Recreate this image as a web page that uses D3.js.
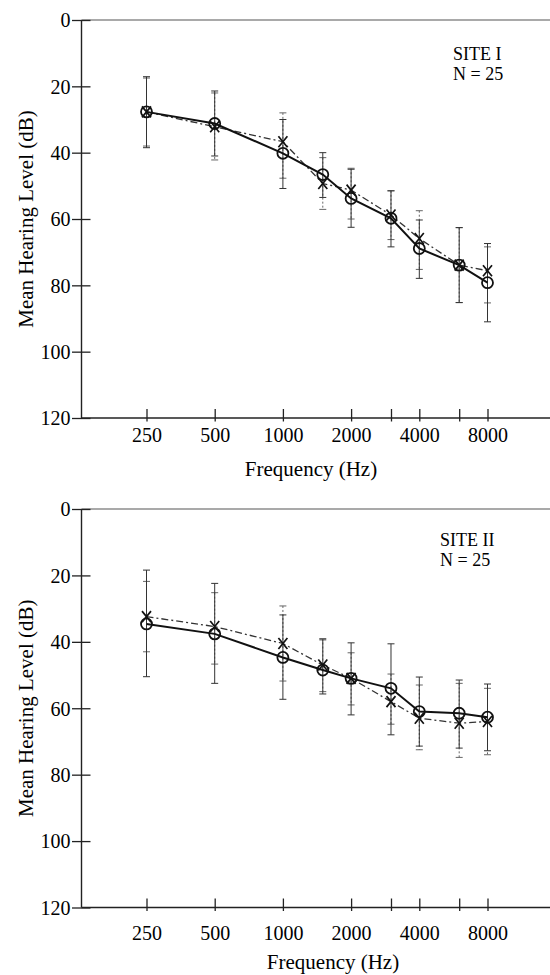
<!DOCTYPE html>
<html lang="en">
<head>
<meta charset="UTF-8">
<title>Mean Hearing Level by Frequency</title>
<style>
  body { margin: 0; padding: 0; background: #fff; }
  svg { display: block; font-family: "Liberation Serif", "Times New Roman", serif; }
  .axis-line { stroke: #222; stroke-width: 1.4; fill: none; }
  .frame-top { stroke: #555; stroke-width: 1.1; fill: none; }
  .tick line { stroke: #222; stroke-width: 1.3; }
  .tick text { font-size: 20px; fill: #000; font-family: "Liberation Serif", "Times New Roman", serif; }
  .title { font-size: 21px; fill: #000; font-family: "Liberation Serif", "Times New Roman", serif; }
  .site { font-size: 18px; fill: #000; font-family: "Liberation Serif", "Times New Roman", serif; }
  .line-o { fill: none; stroke: #111; stroke-width: 2; }
  .line-x { fill: none; stroke: #333; stroke-width: 1.3; stroke-dasharray: 7,3,2,3; }
  .err-o { stroke: #333; stroke-width: 1; }
  .err-x { stroke: #666; stroke-width: 1; stroke-dasharray: 2,2; }
  .mark-o { fill: none; stroke: #111; stroke-width: 1.8; }
  .mark-x { fill: none; stroke: #111; stroke-width: 1.7; }
</style>
</head>
<body>
<div id="chart"></div>
<script src="https://d3js.org/d3.v7.min.js"></script>
<script>
// frequencies tested (Hz)
const freqs = [250, 500, 1000, 1500, 2000, 3000, 4000, 6000, 8000];
const tickFreqs = [250, 500, 1000, 2000, 3000, 4000, 6000, 8000];
const tickLabels = ["250", "500", "1000", "2000", "", "4000", "", "8000"];
const yTicks = [0, 20, 40, 60, 80, 100, 120];

// Site I  (O = solid line, X = dash-dot line), dB HL
const site1OMean = [27.7, 31.2, 40.2, 46.6, 53.8, 59.8, 68.9, 73.9, 79.2];
const site1OLow  = [17.1, 21.4, 30.0, 40.0, 45.0, 51.5, 60.3, 62.6, 67.4];
const site1OHigh = [38.5, 41.0, 50.8, 53.5, 62.5, 68.4, 77.9, 85.2, 91.0];
const site1XMean = [27.7, 32.2, 36.7, 49.3, 51.3, 58.8, 65.9, 73.9, 75.6];
const site1XLow  = [17.5, 22.0, 28.0, 41.5, 44.7, 51.5, 57.5, 62.6, 68.4];
const site1XHigh = [38.0, 42.2, 47.7, 57.1, 60.0, 66.2, 75.2, 85.2, 85.3];

// Site II
const site2OMean = [34.6, 37.6, 44.7, 48.5, 51.0, 54.0, 61.0, 61.5, 62.7];
const site2OLow  = [18.4, 22.4, 31.9, 39.4, 40.3, 40.6, 50.6, 51.5, 52.7];
const site2OHigh = [50.5, 52.5, 57.3, 55.7, 62.0, 68.0, 71.4, 72.0, 72.8];
const site2XMean = [32.4, 35.4, 40.5, 47.0, 51.0, 58.0, 63.0, 64.5, 64.0];
const site2XLow  = [21.8, 25.2, 29.2, 39.0, 43.3, 49.7, 53.0, 52.5, 54.0];
const site2XHigh = [43.0, 46.7, 51.8, 55.0, 59.0, 64.8, 72.5, 74.8, 74.0];

const W = 550, H = 975;
const axisX = 81.5;

const svg = d3.select("#chart").append("svg")
  .attr("width", W)
  .attr("height", H);

const x = d3.scaleLog().domain([250, 8000]).range([146.5, 487.5]);

function drawPanel(p) {
  const y = d3.scaleLinear().domain([0, 120]).range([p.top, p.bottom]);
  const g = svg.append("g");

  // top frame line and axes
  g.append("line").attr("class", "frame-top")
    .attr("x1", axisX).attr("x2", W).attr("y1", y(0)).attr("y2", y(0));
  g.append("line").attr("class", "axis-line")
    .attr("x1", axisX).attr("x2", axisX).attr("y1", y(0)).attr("y2", y(120));
  g.append("line").attr("class", "axis-line")
    .attr("x1", axisX).attr("x2", W).attr("y1", y(120)).attr("y2", y(120));

  // y axis
  const ya = g.append("g")
    .attr("transform", `translate(${axisX},0)`)
    .call(d3.axisLeft(y).tickValues(yTicks).tickSize(0).tickPadding(0));
  ya.select(".domain").remove();
  ya.selectAll(".tick line").attr("x1", -9.5).attr("x2", 9);
  ya.selectAll(".tick text").attr("x", -11).attr("dy", "0.34em");

  // x axis
  const xa = g.append("g")
    .attr("transform", `translate(0,${y(120)})`)
    .call(d3.axisBottom(x).tickValues(tickFreqs).tickSize(0)
      .tickFormat((d, i) => tickLabels[i]));
  xa.select(".domain").remove();
  xa.selectAll(".tick line").attr("y1", -9).attr("y2", 3.5);
  xa.selectAll(".tick text").attr("y", p.tickBase - y(120)).attr("dy", 0);

  // titles
  g.append("text").attr("class", "title")
    .attr("x", p.xTitleX).attr("y", p.xTitleBase)
    .attr("text-anchor", "middle")
    .text("Frequency (Hz)");
  g.append("text").attr("class", "title")
    .attr("transform", `translate(33,${(y(0) + y(120)) / 2}) rotate(-90)`)
    .attr("text-anchor", "middle")
    .text("Mean Hearing Level (dB)");

  g.append("text").attr("class", "site")
    .attr("x", p.siteX).attr("y", p.siteBase).text(p.site);
  g.append("text").attr("class", "site")
    .attr("x", p.siteX).attr("y", p.siteBase + 20).text("N = 25");

  const oPts = freqs.map((f, i) => ({ f, m: p.oMean[i], lo: p.oLow[i], hi: p.oHigh[i] }));
  const xPts = freqs.map((f, i) => ({ f, m: p.xMean[i], lo: p.xLow[i], hi: p.xHigh[i] }));

  // error bars
  function errBars(pts, cls) {
    const eb = g.append("g").selectAll("g").data(pts).enter().append("g").attr("class", cls);
    eb.append("line")
      .attr("x1", d => x(d.f)).attr("x2", d => x(d.f))
      .attr("y1", d => y(d.lo)).attr("y2", d => y(d.hi));
    eb.append("line")
      .attr("x1", d => x(d.f) - 3.5).attr("x2", d => x(d.f) + 3.5)
      .attr("y1", d => y(d.lo)).attr("y2", d => y(d.lo))
      .style("stroke-dasharray", "none");
    eb.append("line")
      .attr("x1", d => x(d.f) - 3.5).attr("x2", d => x(d.f) + 3.5)
      .attr("y1", d => y(d.hi)).attr("y2", d => y(d.hi))
      .style("stroke-dasharray", "none");
  }
  errBars(xPts, "err-x");
  errBars(oPts, "err-o");

  const line = d3.line().x(d => x(d.f)).y(d => y(d.m));
  g.append("path").datum(xPts).attr("class", "line-x").attr("d", line);
  g.append("path").datum(oPts).attr("class", "line-o").attr("d", line);

  g.selectAll(".mo").data(oPts).enter().append("circle")
    .attr("class", "mark-o")
    .attr("cx", d => x(d.f)).attr("cy", d => y(d.m)).attr("r", 5.5);

  g.selectAll(".mx").data(xPts).enter().append("path")
    .attr("class", "mark-x")
    .attr("transform", d => `translate(${x(d.f)},${y(d.m)})`)
    .attr("d", "M-4.5,-5.5L4.5,5.5M4.5,-5.5L-4.5,5.5");
}

drawPanel({
  top: 20, bottom: 418, tickBase: 442, xTitleX: 311, xTitleBase: 476,
  site: "SITE I", siteX: 453, siteBase: 60,
  oMean: site1OMean, oLow: site1OLow, oHigh: site1OHigh,
  xMean: site1XMean, xLow: site1XLow, xHigh: site1XHigh
});

drawPanel({
  top: 509, bottom: 907.5, tickBase: 940, xTitleX: 333, xTitleBase: 969,
  site: "SITE II", siteX: 440, siteBase: 546,
  oMean: site2OMean, oLow: site2OLow, oHigh: site2OHigh,
  xMean: site2XMean, xLow: site2XLow, xHigh: site2XHigh
});
</script>
</body>
</html>
